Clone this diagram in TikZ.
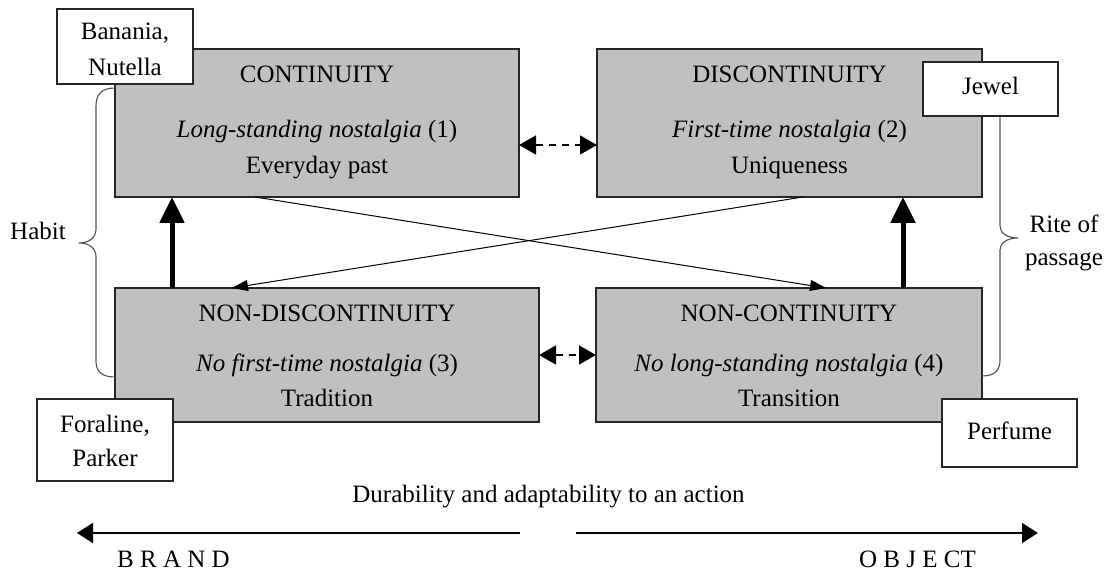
\documentclass[tikz,border=0pt]{standalone}
\usepackage{fontspec}
\setmainfont{Liberation Serif}
\usetikzlibrary{arrows.meta}
\definecolor{boxgray}{RGB}{192,192,192}
\definecolor{bracegray}{RGB}{80,80,80}
\begin{document}
\begin{tikzpicture}[x=0.5pt,y=-0.5pt,
  every node/.style={font=\fontsize{12.5pt}{17.5pt}\selectfont},
  state/.style={draw=black!85,fill=boxgray,line width=0.75pt,inner sep=0pt,outer sep=0pt},
  tag/.style={draw=black!85,fill=white,line width=0.75pt,inner sep=0pt,outer sep=0pt},
  txt/.style={inner sep=0pt,anchor=base},
  heavyarrow/.style={line width=2.5pt,-{Triangle[length=13pt,width=12pt]}},
  swaparrow/.style={line width=0.7pt,dash pattern=on 3.5pt off 3pt,
    {Triangle[length=8.5pt,width=9.5pt]}-{Triangle[length=8.5pt,width=9.5pt]}},
  crossarrow/.style={line width=0.5pt,-{Triangle[length=8pt,width=5.5pt]}},
  axisarrow/.style={line width=0.8pt,-{Triangle[length=8pt,width=10pt]}},
  bracepath/.style={draw=bracegray,line width=0.55pt}]
\useasboundingbox (0,0) rectangle (1110,576);

% the four states
\node[state,minimum width=202pt,minimum height=74pt] (cont) at (317,123) {};
\node[state,minimum width=192.5pt,minimum height=74pt] (disc) at (789.5,123) {};
\node[state,minimum width=212pt,minimum height=67pt] (ndisc) at (327,355) {};
\node[state,minimum width=193pt,minimum height=67pt] (ncont) at (789,355) {};

\node[txt] (contA) at (317,83) {CONTINUITY};
\node[txt] (contB) at (317,138) {\textit{Long-standing nostalgia} (1)};
\node[txt] (contC) at (317,174) {Everyday past};

\node[txt] (discA) at (789.5,83) {DISCONTINUITY};
\node[txt] (discB) at (789.5,138) {\textit{First-time nostalgia} (2)};
\node[txt] (discC) at (789.5,174) {Uniqueness};

\node[txt] (ndiscA) at (327,322) {NON-DISCONTINUITY};
\node[txt] (ndiscB) at (327,372) {\textit{No first-time nostalgia} (3)};
\node[txt] (ndiscC) at (327,407) {Tradition};

\node[txt] (ncontA) at (789,322) {NON-CONTINUITY};
\node[txt] (ncontB) at (789,372) {\textit{No long-standing nostalgia} (4)};
\node[txt] (ncontC) at (789,407) {Transition};

% braces
\draw[bracepath] (115,88) .. controls (101,88) and (96,95) .. (96,106)
  -- (96,229) .. controls (96,237) and (90,243) .. (79,243)
  .. controls (90,243) and (96,249) .. (96,257)
  -- (96,361) .. controls (96,371) and (101,377) .. (115,377);
\draw[bracepath] (1000,116) -- (1000,226) .. controls (1000,233) and (1007,238) .. (1018,238)
  .. controls (1007,238) and (1000,243) .. (1000,250)
  -- (1000,360) .. controls (1000,370) and (995,376) .. (982,376);
\node[txt] (habit) at (38,240) {Habit};
\node[txt] (rite) at (1064,233) {Rite of};
\node[txt] (passage) at (1064,266) {passage};

% example tags
\node[tag,minimum width=68pt,minimum height=37.5pt] (ban) at (125,46.5) {};
\node[txt] (banA) at (125,40) {Banania,};
\node[txt] (banB) at (125,76) {Nutella};
\node[tag,minimum width=67.5pt,minimum height=27pt] (jewel) at (990.5,89) {};
\node[txt] (jewelA) at (990.5,95) {Jewel};
\node[tag,minimum width=68pt,minimum height=41pt] (fora) at (105,440) {};
\node[txt] (foraA) at (105,433) {Foraline,};
\node[txt] (foraB) at (105,467) {Parker};
\node[tag,minimum width=67.5pt,minimum height=34pt] (perf) at (1009.5,433) {};
\node[txt] (perfA) at (1009.5,440) {Perfume};

% connectors between states
\coordinate (xl) at (172,0);
\coordinate (xr) at (903,0);
\coordinate (ytop) at (0,145);
\coordinate (c1) at (255,0);
\coordinate (c2) at (826,0);
\coordinate (c3) at (803,0);
\coordinate (c4) at (232,0);
\draw[heavyarrow] (xl |- ndisc.north) -- (xl |- cont.south);
\draw[heavyarrow] (xr |- ncont.north) -- (xr |- disc.south);
\draw[swaparrow] (cont.east |- ytop) -- (disc.west |- ytop);
\draw[swaparrow] (ndisc.east) -- (ncont.west);
\draw[crossarrow] (c1 |- cont.south) -- (c2 |- ncont.north);
\draw[crossarrow] (c3 |- disc.south) -- (c4 |- ndisc.north);

% axis
\node[txt] (axis) at (548.5,503) {Durability and adaptability to an action};
\coordinate (la) at (520,533);
\coordinate (lb) at (77,533);
\coordinate (ra) at (576,533);
\coordinate (rb) at (1038,533);
\draw[axisarrow] (la) -- (lb);
\draw[axisarrow] (ra) -- (rb);
\node[txt] (brand) at (173.5,568) {B R A N D};
\node[txt] (object) at (917.5,568) {O B J E CT};
\end{tikzpicture}
\end{document}
